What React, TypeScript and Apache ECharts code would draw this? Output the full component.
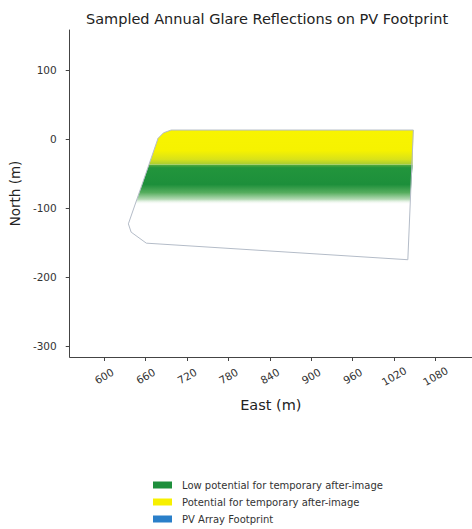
import React, { useEffect, useRef } from "react";
import * as echarts from "echarts";

// PV footprint outline (East m, North m)
const footprintEast = [697, 1048, 1040, 661, 639, 635, 678, 686];
const footprintNorth = [13, 13, -175, -151, -135, -123, 1, 9];

// Glare band: potential for temporary after-image (yellow)
const yellowEast = [686, 697, 1048, 1047, 665, 678];
const yellowNorth = [9, 13, 13, -37, -37, 1];

// Glare band: low potential for temporary after-image (green)
const greenEast = [665, 1047, 1043, 645];
const greenNorth = [-37, -37, -95, -95];

const xTicks = [600, 660, 720, 780, 840, 900, 960, 1020, 1080];
const yTicks = [-300, -200, -100, 0, 100];

const seriesNames = [
  "Low potential for temporary after-image",
  "Potential for temporary after-image",
  "PV Array Footprint",
];

const FONT = "DejaVu Sans";

function polygonItem(east: number[], north: number[], style: any) {
  return (_params: any, api: any) => ({
    type: "polygon",
    shape: { points: east.map((e, i) => api.coord([e, north[i]])) },
    style,
  });
}

export default function App() {
  const ref = useRef<HTMLDivElement>(null);
  useEffect(() => {
    if (!ref.current) return;
    const chart = echarts.init(ref.current, undefined, { renderer: "svg" });
    const yellowFill = new echarts.graphic.LinearGradient(0, 0, 0, 1, [
      { offset: 0, color: "#f8f400" },
      { offset: 0.6, color: "#f6f200" },
      { offset: 0.85, color: "#d9e21a" },
      { offset: 1, color: "#a6cc34" },
    ]);
    const greenFill = new echarts.graphic.LinearGradient(0, 0, 0, 1, [
      { offset: 0, color: "#5cae3c" },
      { offset: 0.08, color: "#22953c" },
      { offset: 0.5, color: "#1d8f3b" },
      { offset: 0.7, color: "#56ad5e" },
      { offset: 0.87, color: "#b4dab4" },
      { offset: 1, color: "rgba(255,255,255,0)" },
    ]);
    const fmt = (v: number) => String(v);
    chart.setOption({
      animation: false,
      backgroundColor: "#ffffff",
      title: {
        text: "Sampled Annual Glare Reflections on PV Footprint",
        left: 86,
        top: 11,
        padding: 0,
        textStyle: { fontFamily: FONT, fontSize: 14.5, fontWeight: "normal", color: "#222" },
      },
      legend: {
        orient: "vertical",
        left: 153,
        top: 479,
        height: 50,
        padding: 0,
        icon: "rect",
        itemWidth: 19,
        itemHeight: 7,
        itemGap: 5,
        selectedMode: false,
        data: seriesNames,
        textStyle: {
          fontFamily: FONT,
          fontSize: 10,
          color: "#333",
          lineHeight: 12,
          padding: [0, 0, 0, 5],
        },
      },
      grid: { left: 68, right: 0, top: 30, bottom: 172 },
      xAxis: {
        type: "value",
        min: 550,
        max: 1133,
        name: "East (m)",
        nameLocation: "middle",
        nameGap: 40,
        nameTextStyle: { fontFamily: FONT, fontSize: 14.5, color: "#222" },
        splitLine: { show: false },
        axisLine: { show: true, onZero: false, lineStyle: { color: "#444", width: 1 } },
        axisTick: { show: true, length: 4, customValues: xTicks, lineStyle: { color: "#444" } },
        axisLabel: {
          customValues: xTicks,
          formatter: fmt,
          rotate: 30,
          align: "center",
          verticalAlign: "middle",
          margin: 19,
          fontFamily: FONT,
          fontSize: 10.5,
          color: "#333",
        },
      },
      yAxis: {
        type: "value",
        min: -316,
        max: 158,
        name: "North (m)",
        nameLocation: "middle",
        nameGap: 45,
        nameTextStyle: { fontFamily: FONT, fontSize: 13.5, color: "#222" },
        splitLine: { show: false },
        axisLine: { show: true, onZero: false, lineStyle: { color: "#444", width: 1 } },
        axisTick: { show: true, length: 4, customValues: yTicks, lineStyle: { color: "#444" } },
        axisLabel: {
          customValues: yTicks,
          formatter: fmt,
          margin: 13,
          fontFamily: FONT,
          fontSize: 10.5,
          color: "#333",
        },
      },
      series: [
        {
          name: seriesNames[0],
          type: "custom",
          itemStyle: { color: "#1e8f3c" },
          data: [0],
          renderItem: polygonItem(greenEast, greenNorth, { fill: greenFill }),
          z: 2,
        },
        {
          name: seriesNames[1],
          type: "custom",
          itemStyle: { color: "#f7f000" },
          data: [0],
          renderItem: polygonItem(yellowEast, yellowNorth, { fill: yellowFill }),
          z: 3,
        },
        {
          name: seriesNames[2],
          type: "custom",
          itemStyle: { color: "#2a7fc9" },
          data: [0],
          renderItem: polygonItem(footprintEast, footprintNorth, {
            fill: "none",
            stroke: "#b4bcc8",
            lineWidth: 1,
          }),
          z: 4,
        },
      ],
    });
    return () => chart.dispose();
  }, []);
  return (
    <div
      ref={ref}
      style={{ position: "fixed", left: 0, top: 0, width: 472, height: 529, background: "#fff" }}
    />
  );
}
